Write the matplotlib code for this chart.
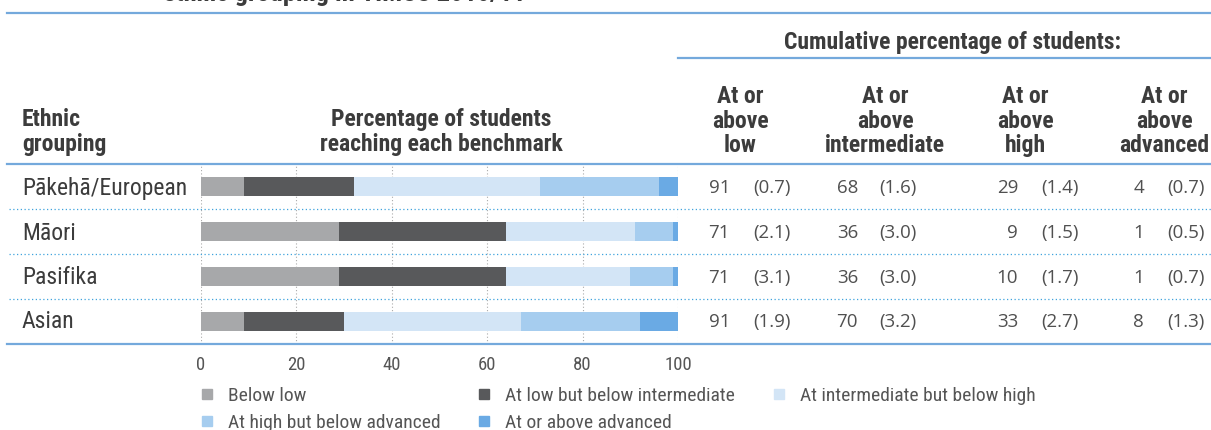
import matplotlib
matplotlib.use("Agg")
import matplotlib.pyplot as plt
from matplotlib import font_manager as fm
from matplotlib.lines import Line2D

# data
groups = ["Pākehā/European", "Māori", "Pasifika", "Asian"]
below_low = [9, 29, 29, 9]
low_int = [23, 35, 35, 21]
int_high = [39, 27, 26, 37]
high_adv = [25, 8, 9, 25]
advanced = [4, 1, 1, 8]

cum_low = [91, 71, 71, 91]
cum_low_se = ["(0.7)", "(2.1)", "(3.1)", "(1.9)"]
cum_int = [68, 36, 36, 70]
cum_int_se = ["(1.6)", "(3.0)", "(3.0)", "(3.2)"]
cum_high = [29, 9, 10, 33]
cum_high_se = ["(1.4)", "(1.5)", "(1.7)", "(2.7)"]
cum_adv = [4, 1, 1, 8]
cum_adv_se = ["(0.7)", "(0.5)", "(0.7)", "(1.3)"]

seg_names = ["Below low", "At low but below intermediate",
             "At intermediate but below high", "At high but below advanced",
             "At or above advanced"]
seg_colors = ["#a7a8aa", "#58595b", "#d3e5f6", "#a6cdef", "#6aaae4"]
xticks = [0, 20, 40, 60, 80, 100]

# fonts
names = {f.name for f in fm.fontManager.ttflist}
cond = None
for n in ["Liberation Sans Narrow", "Roboto Condensed", "Open Sans Condensed"]:
    if n in names:
        cond = dict(family=n)
        break
if cond is None:
    cond = dict(family="DejaVu Sans", stretch="condensed")
numfont = "Open Sans" if "Open Sans" in names else "DejaVu Sans"

W, H = 1211, 430
txt = "#3c3c3c"
blue = "#74a9dc"

fig = plt.figure(figsize=(W / 100, H / 100), dpi=100)


def fx(x):
    return x / W


def fy(y):
    return 1 - y / H


def hline(y, x0, x1, **kw):
    fig.add_artist(Line2D([fx(x0), fx(x1)], [fy(y), fy(y)], transform=fig.transFigure, **kw))


# bar axes
ax = fig.add_axes([fx(201), fy(344), fx(678) - fx(201), fy(164) - fy(344)])
segs = [below_low, low_int, int_high, high_adv, advanced]
rows = range(len(groups))
left = [0] * len(groups)
for vals, c, nm in zip(segs, seg_colors, seg_names):
    ax.barh([r + 0.5 for r in rows], vals, left=left, height=0.42, color=c, label=nm, zorder=2)
    left = [a + b for a, b in zip(left, vals)]
ax.set_xlim(0, 100)
ax.set_ylim(4, 0)
ax.set_xticks(xticks)
ax.set_yticks([])
ax.tick_params(axis="x", length=0, pad=9, labelsize=13.5, labelcolor="#555555")
for lab in ax.get_xticklabels():
    lab.set_fontfamily(cond["family"])
for x in xticks:
    ax.axvline(x, color="#aaaaaa", lw=0.8, ls=(0, (1, 2)), zorder=1)
for s in ax.spines.values():
    s.set_visible(False)
ax.patch.set_alpha(0)

# lines
hline(13, 7, W, color=blue, lw=1.6)
hline(58, 678, W, color=blue, lw=1.6)
hline(164, 7, W, color=blue, lw=1.6)
hline(344, 7, W, color=blue, lw=1.6)
for y in [209, 254, 299]:
    hline(y, 9, W, color="#3fa3dd", lw=0.9, ls=(0, (1, 2)))

# title (cut off at top)
fig.text(fx(163), fy(1.5), "ethnic grouping in TIMSS 2010/11", ha="left", va="baseline",
         fontsize=19, fontweight="bold", color=txt, **cond)

# headers
hs = dict(fontsize=17, fontweight="semibold", color=txt, linespacing=1.07, **cond)
fig.text(fx(22), fy(132), "Ethnic\ngrouping", ha="left", va="center", **hs)
fig.text(fx(441), fy(132), "Percentage of students\nreaching each benchmark", ha="center",
         va="center", multialignment="center", **hs)
fig.text(fx(953), fy(42), "Cumulative percentage of students:", ha="center", va="center", **hs)
col_centers = [740, 885, 1025, 1164]
col_heads = ["At or\nabove\nlow", "At or\nabove\nintermediate", "At or\nabove\nhigh",
             "At or\nabove\nadvanced"]
for cx, h in zip(col_centers, col_heads):
    fig.text(fx(cx), fy(121), h, ha="center", va="center", multialignment="center", **hs)

# row labels and table numbers
row_y = [188, 233, 278, 322]
num_right = [730, 858, 1018, 1144]
se_left = [753, 879, 1041, 1167]
cols = [(cum_low, cum_low_se), (cum_int, cum_int_se), (cum_high, cum_high_se),
        (cum_adv, cum_adv_se)]
for i, g in enumerate(groups):
    y = fy(row_y[i])
    fig.text(fx(22), y, g, ha="left", va="center", fontsize=17, color=txt, **cond)
    for (vals, ses), xr, xl in zip(cols, num_right, se_left):
        fig.text(fx(xr), y, str(vals[i]), ha="right", va="center", fontsize=13.5,
                 color="#505050", family=numfont)
        fig.text(fx(xl), y, ses[i], ha="left", va="center", fontsize=13.5,
                 color="#505050", family=numfont)

# legend (row-major order)
handles = [Line2D([], [], marker="s", ls="none", ms=7.5, color=c) for c in seg_colors]
order = [0, 3, 1, 4, 2]
leg = fig.legend([handles[i] for i in order], [seg_names[i] for i in order],
                 loc="upper left", bbox_to_anchor=(fx(197), fy(387)), ncol=3,
                 frameon=False, handlelength=1.0, handletextpad=0.58,
                 columnspacing=1.75, labelspacing=0.45, borderpad=0, borderaxespad=0,
                 prop=dict(size=14, **cond))
for t in leg.get_texts():
    t.set_color("#555555")

fig.savefig("out.png", dpi=100)
